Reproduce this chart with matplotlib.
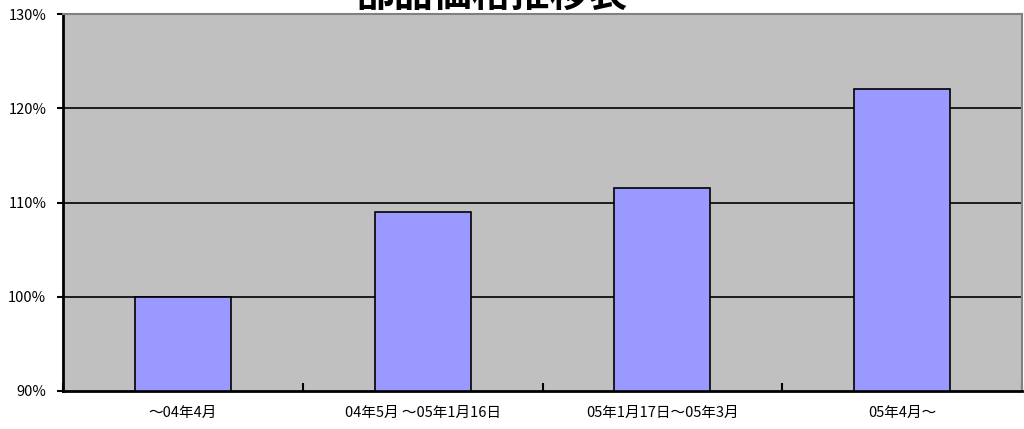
import matplotlib.pyplot as plt
from matplotlib.ticker import FuncFormatter

plt.rcParams['font.family'] = ['Noto Sans CJK JP', 'DejaVu Sans']

# data
title = '部品価格推移表'
categories = ['～04年4月', '04年5月 ～05年1月16日', '05年1月17日～05年3月', '05年4月～']
values = [100.0, 109.0, 111.5, 122.0]
y_ticks = [90, 100, 110, 120, 130]

fig = plt.figure(figsize=(10.24, 4.29), dpi=100)
ax = fig.add_axes([63/1024, 1 - 391/429, (1022 - 63)/1024, (391 - 14)/429])
ax.set_facecolor('#C0C0C0')

x = list(range(len(categories)))
ax.bar(x, [v - y_ticks[0] for v in values], bottom=y_ticks[0], width=0.4,
       color='#9999FF', edgecolor='black', linewidth=1.2, zorder=3)

ax.set_xlim(-0.5, len(categories) - 0.5)
ax.set_ylim(y_ticks[0], y_ticks[-1])
ax.set_yticks(y_ticks)
ax.yaxis.set_major_formatter(FuncFormatter(lambda v, p: '%d%%' % v))
for v in y_ticks[1:-1]:
    ax.axhline(v, color='black', linewidth=1.2, zorder=2)

# category labels with boundary ticks pointing inward
ax.set_xticks(x)
ax.set_xticklabels(categories, fontsize=10.5)
ax.tick_params(axis='x', length=0, pad=11)
ax.set_xticks([i - 0.5 for i in range(len(categories) + 1)], minor=True)
ax.tick_params(axis='x', which='minor', direction='in', length=6, width=1.5)
ax.tick_params(axis='y', direction='out', length=4, width=1.5, labelsize=10.5, pad=8)

for s in ['left', 'bottom']:
    ax.spines[s].set_linewidth(2)
    ax.spines[s].set_color('black')
for s in ['top', 'right']:
    ax.spines[s].set_linewidth(1.5)
    ax.spines[s].set_color('#808080')

# title runs off the top edge as in the source
fig.text(0.5 - 0.02, 1 - 7/429, title, ha='center', va='baseline',
         fontsize=28, fontweight='bold')

fig.savefig('out.png', dpi=100)
